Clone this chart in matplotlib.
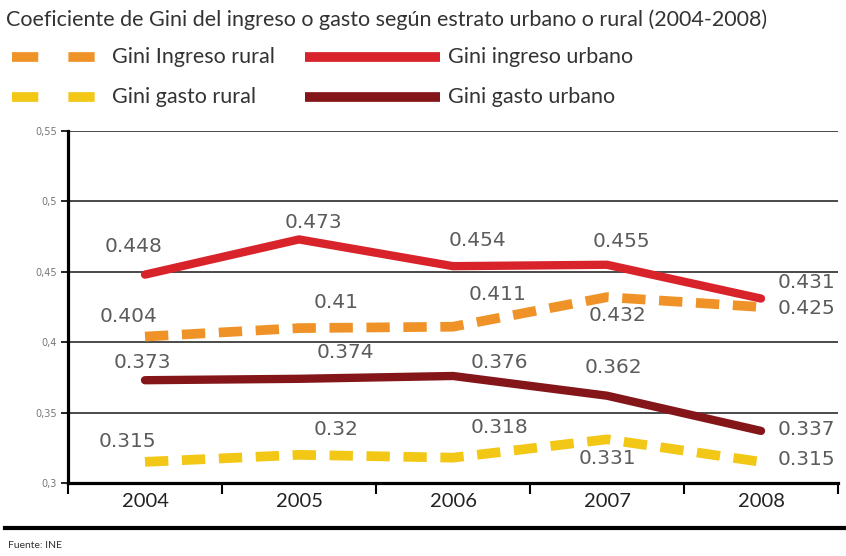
import matplotlib
matplotlib.use("Agg")
import matplotlib.pyplot as plt
from matplotlib.lines import Line2D

years = ["2004", "2005", "2006", "2007", "2008"]
ingreso_urbano = [0.448, 0.473, 0.454, 0.455, 0.431]
ingreso_rural = [0.404, 0.41, 0.411, 0.432, 0.425]
gasto_urbano = [0.373, 0.374, 0.376, 0.362, 0.337]
gasto_rural = [0.315, 0.32, 0.318, 0.331, 0.315]
yticks = [0.3, 0.35, 0.4, 0.45, 0.5, 0.55]
ytick_labels = ["0,3", "0,35", "0,4", "0,45", "0,5", "0,55"]

title = "Coeficiente de Gini del ingreso o gasto según estrato urbano o rural (2004-2008)"
source = "Fuente: INE"

C_RED = "#D8232B"
C_DARK = "#841619"
C_ORANGE = "#EF9328"
C_YELLOW = "#F3C716"
C_LABEL = "#5c5c5c"

NARROW = ["Lato", "DejaVu Sans"]

W, H = 846, 556
fig = plt.figure(figsize=(W / 100, H / 100), dpi=100)
fig.patch.set_facecolor("white")

ax = fig.add_axes([68 / W, 1 - 483 / H, (838 - 68) / W, (483 - 131) / H])
x = list(range(len(years)))

# gridlines
for yv in yticks[1:]:
    ax.axhline(yv, color="#3c3c3c", lw=1.3, zorder=1)

dash = (2.4, 1.4)
ax.plot(x, ingreso_urbano, color=C_RED, lw=6, solid_capstyle="round", zorder=3)
ax.plot(x, gasto_urbano, color=C_DARK, lw=6, solid_capstyle="round", zorder=3)
ax.plot(x, ingreso_rural, color=C_ORANGE, lw=7, dashes=dash, dash_capstyle="butt", zorder=3)
ax.plot(x, gasto_rural, color=C_YELLOW, lw=7, dashes=dash, dash_capstyle="butt", zorder=3)

# label offsets in pixels (style only)
off_iu = [(-11, 28), (14, 17), (24, 26), (14, 23), (45, 16)]
off_ir = [(-16, 20), (37, 26), (45, 32), (10, -18), (45, -1)]
off_gu = [(-3, 18), (46, 26), (46, 13), (6, 28), (45, 1)]
off_gr = [(-18, 20), (37, 25), (46, 30), (0, -19), (45, 2)]

for series, offs in [(ingreso_urbano, off_iu), (ingreso_rural, off_ir),
                     (gasto_urbano, off_gu), (gasto_rural, off_gr)]:
    for xi, v, (dx, dy) in zip(x, series, offs):
        ax.annotate(f"{v:g}", (xi, v), xytext=(dx, dy), textcoords="offset pixels",
                    ha="center", va="center", fontsize=14.5, color=C_LABEL,
                    family="DejaVu Sans", zorder=4)

ax.set_xlim(-0.5, 4.5)
ax.set_ylim(0.3, 0.55)
ax.set_yticks(yticks)
ax.set_yticklabels(ytick_labels, fontsize=7, color="#777777")
ax.set_xticks([i - 0.5 for i in range(len(years) + 1)])
ax.set_xticklabels([])
ax.set_xticks(x, minor=True)
ax.set_xticklabels(years, minor=True, fontsize=14.5, family=NARROW, color="#222222")
ax.tick_params(axis="x", which="major", length=8, width=1.5, direction="out", color="black")
ax.tick_params(axis="x", which="minor", length=0, pad=7)
ax.tick_params(axis="y", length=5, width=1.2, color="black", pad=3)

for s in ["top", "right"]:
    ax.spines[s].set_visible(False)
ax.spines["left"].set_linewidth(2.3)
ax.spines["bottom"].set_linewidth(2.3)
ax.spines["left"].set_color("black")
ax.spines["bottom"].set_color("black")
ax.set_facecolor("white")

# title
fig.text(6 / W, 1 - 20 / H, title, ha="left", va="center", fontsize=15.5,
         family=NARROW, color="#333333")

# legend (manual)
def px(xp, yp):
    return xp / W, 1 - yp / H

legend_items = [
    ("Gini Ingreso rural", C_ORANGE, True, 12, 96, 112, 57),
    ("Gini gasto rural", C_YELLOW, True, 12, 96, 112, 97),
    ("Gini ingreso urbano", C_RED, False, 305, 440, 448, 57),
    ("Gini gasto urbano", C_DARK, False, 305, 440, 448, 97),
]
for label, col, dashed, x0, x1, tx, yy in legend_items:
    (fx0, fy), (fx1, _) = px(x0, yy), px(x1, yy)
    if dashed:
        ln = Line2D([fx0, fx1], [fy, fy], transform=fig.transFigure, color=col,
                    lw=7, dashes=(2.7, 3.1), dash_capstyle="butt")
    else:
        ln = Line2D([fx0, fx1], [fy, fy], transform=fig.transFigure, color=col,
                    lw=7, solid_capstyle="butt")
    fig.add_artist(ln)
    tfx, tfy = px(tx, yy)
    fig.text(tfx, tfy, label, ha="left", va="center", fontsize=15.5,
             family=NARROW, color="#333333")

# bottom rule and source
fig.add_artist(Line2D([5 / W, 1.0], [1 - 528 / H, 1 - 528 / H], transform=fig.transFigure,
                      color="black", lw=3))
fig.text(8 / W, 1 - 545 / H, source, ha="left", va="center", fontsize=7.5,
         family=NARROW, color="#333333")

fig.savefig("out.png", dpi=100, facecolor="white")
